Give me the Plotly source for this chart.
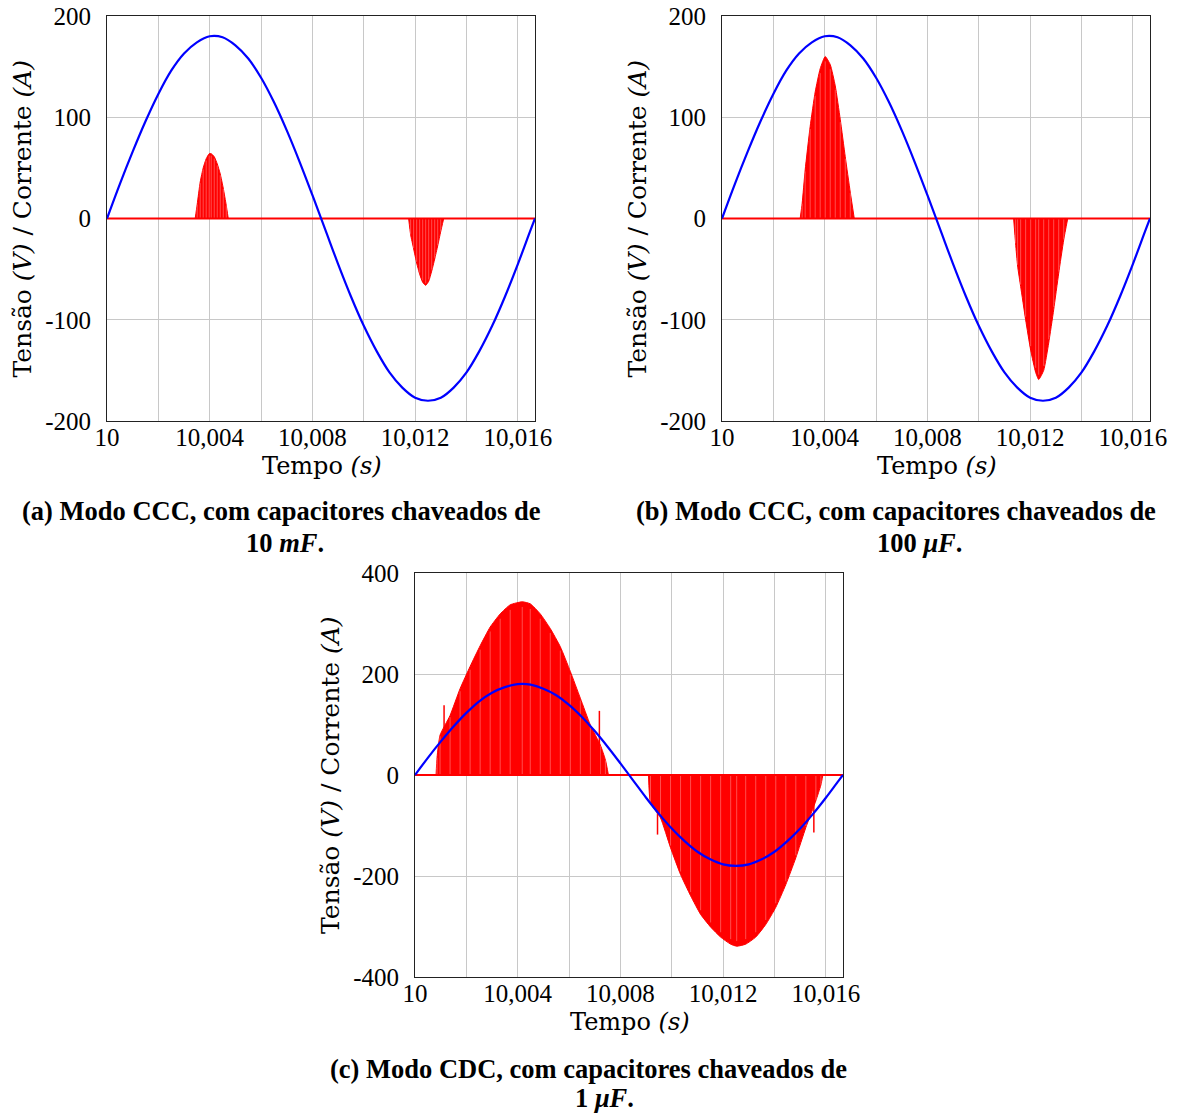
import plotly.graph_objects as go

# ---------------- data ----------------
# Supply voltage over one 60 Hz cycle (V)
t_volt = [10.0, 10.0005, 10.001, 10.0015, 10.002, 10.0025, 10.003, 10.0035, 10.004,
          10.0045, 10.005, 10.0055, 10.006, 10.0065, 10.007, 10.0075, 10.008, 10.0085,
          10.009, 10.0095, 10.01, 10.0105, 10.011, 10.0115, 10.012, 10.0125, 10.013,
          10.0135, 10.014, 10.0145, 10.015, 10.0155, 10.016, 10.0165, 10.016667]
v_volt = [0, 34, 66, 96, 123, 146, 163, 174, 180, 179, 171, 158, 139, 115, 87, 56, 23,
          -11, -45, -77, -106, -131, -152, -167, -177, -180, -177, -167, -152, -131,
          -106, -77, -45, -11, 0]

# (a) CCC mode, 10 mF: current pulse envelopes (A)
t_a_pos = [10.003434, 10.003512, 10.003629, 10.003746, 10.003863, 10.00398, 10.004059,
           10.004176, 10.004293, 10.00441, 10.004527, 10.004644, 10.004722]
i_a_pos = [0, 14, 36, 50, 59, 64, 64, 61, 54, 44, 30, 13, 0]
t_a_neg = [10.011746, 10.011824, 10.011941, 10.012059, 10.012176, 10.012293, 10.01241,
           10.012527, 10.012644, 10.012761, 10.012878, 10.012995, 10.013112]
i_a_neg = [0, -16, -30, -44, -55, -63, -66, -62, -52, -40, -27, -13, 0]

# (b) CCC mode, 100 uF
t_b_pos = [10.003044, 10.003122, 10.003239, 10.003434, 10.003629, 10.003824, 10.00402,
           10.004215, 10.00441, 10.004605, 10.0048, 10.004995, 10.005151]
i_b_pos = [0, 15, 48, 91, 125, 148, 160, 152, 131, 98, 61, 26, 0]
t_b_neg = [10.011356, 10.011434, 10.011512, 10.011629, 10.011824, 10.01202, 10.012215,
           10.012332, 10.012527, 10.012722, 10.012917, 10.013112, 10.013307, 10.013463]
i_b_neg = [0, -25, -47, -67, -100, -130, -152, -159, -150, -123, -90, -54, -21, 0]

# (c) CDC mode, 1 uF
t_c_pos = [10.00082, 10.000859, 10.000976, 10.001366, 10.001756, 10.002146, 10.002537,
           10.002927, 10.003317, 10.003707, 10.004176, 10.004488, 10.004878, 10.005268,
           10.005659, 10.006049, 10.006439, 10.006829, 10.00722, 10.007415, 10.007532]
i_c_pos = [0, 35, 79, 118, 171, 215, 256, 293, 319, 337, 343, 339, 319, 290, 254, 205,
           152, 99, 59, 30, 0]
t_c_neg = [10.009093, 10.009171, 10.009561, 10.009951, 10.010341, 10.010732, 10.011122,
           10.011512, 10.011902, 10.012293, 10.012527, 10.012878, 10.013268, 10.013659,
           10.014049, 10.014439, 10.014829, 10.01522, 10.01561, 10.015805, 10.015883]
i_c_neg = [0, -55, -85, -144, -197, -239, -276, -301, -321, -335, -339, -335, -321, -296,
           -262, -217, -164, -104, -51, -20, 0]
# isolated switching spikes in (c)
t_c_spk = [10.001132, 10.00718, 10.009444, 10.015532]
i_c_spk = [138, 127, -118, -114]

x_tickvals = [10.0, 10.002, 10.004, 10.006, 10.008, 10.01, 10.012, 10.014, 10.016]
x_ticktext = ["10", "", "10,004", "", "10,008", "", "10,012", "", "10,016"]
y_ticks_ab = [-200, -100, 0, 100, 200]
y_ticks_c = [-400, -200, 0, 200, 400]

caption_line1 = [
    "<b>(a) Modo CCC, com capacitores chaveados de</b>",
    "<b>(b) Modo CCC, com capacitores chaveados de</b>",
    "<b>(c) Modo CDC, com capacitores chaveados de</b>",
]
caption_line2 = ["<b>10 <i>mF</i>.</b>", "<b>100 <i>μF</i>.</b>", "<b>1 <i>μF</i>.</b>"]

# ---------------- layout helpers ----------------
W, H = 1181, 1115
TICK_FONT = "Liberation Serif"
TITLE_FONT = "DejaVu Serif"
RED = "#ff0000"
STRIPE = "rgba(255,130,130,0.6)"
BLUE = "#0000ff"


def px(x):
    return x / W


def py(y):
    return 1 - y / H


fig = go.Figure()

panels = [
    # axis box (left, right, top, bottom) in px, y range, ticks, lobes, spikes
    dict(box=(107, 535, 16, 421), yr=200, yt=y_ticks_ab,
         lobes=[(t_a_pos, i_a_pos), (t_a_neg, i_a_neg)], spikes=None),
    dict(box=(722, 1150, 16, 421), yr=200, yt=y_ticks_ab,
         lobes=[(t_b_pos, i_b_pos), (t_b_neg, i_b_neg)], spikes=None),
    dict(box=(415, 843, 573, 977), yr=400, yt=y_ticks_c,
         lobes=[(t_c_pos, i_c_pos), (t_c_neg, i_c_neg)], spikes=(t_c_spk, i_c_spk)),
]

annotations = []
for k, p in enumerate(panels):
    n = "" if k == 0 else str(k + 1)
    xa, ya = "x" + n, "y" + n
    l, r, tp, b = p["box"]

    # current pulse envelopes, filled to zero
    for tt, ii in p["lobes"]:
        fig.add_trace(go.Scatter(x=tt, y=ii, xaxis=xa, yaxis=ya, mode="lines",
                                 line=dict(color=RED, width=1, shape="spline", smoothing=0.5),
                                 fill="tozeroy", fillcolor=RED, hoverinfo="skip",
                                 showlegend=False))
        # switching stripes at each sample
        sx, sy = [], []
        for t0, v0 in zip(tt[1:-1], ii[1:-1]):
            sx += [t0, t0, None]
            sy += [0, v0 * 0.97, None]
        fig.add_trace(go.Scatter(x=sx, y=sy, xaxis=xa, yaxis=ya, mode="lines",
                                 line=dict(color=STRIPE, width=1), hoverinfo="skip",
                                 showlegend=False))
    if p["spikes"]:
        sx, sy = [], []
        for t0, v0 in zip(*p["spikes"]):
            sx += [t0, t0, None]
            sy += [0, v0, None]
        fig.add_trace(go.Scatter(x=sx, y=sy, xaxis=xa, yaxis=ya, mode="lines",
                                 line=dict(color=RED, width=1.5), hoverinfo="skip",
                                 showlegend=False))

    # current baseline
    fig.add_trace(go.Scatter(x=[t_volt[0], t_volt[-1]], y=[0, 0], xaxis=xa, yaxis=ya,
                             mode="lines", line=dict(color=RED, width=2),
                             hoverinfo="skip", showlegend=False))
    # voltage
    fig.add_trace(go.Scatter(x=t_volt, y=v_volt, xaxis=xa, yaxis=ya, mode="lines",
                             line=dict(color=BLUE, width=2.2, shape="spline"),
                             hoverinfo="skip", showlegend=False))

    axis_common = dict(showline=True, mirror=True, linecolor="#222", linewidth=1,
                       showgrid=True, gridcolor="#c8c8c8", gridwidth=1, zeroline=False,
                       ticks="", automargin=False,
                       tickfont=dict(family=TICK_FONT, size=25, color="black"))
    fig.layout["xaxis" + n] = dict(axis_common, domain=[px(l), px(r)],
                                   range=[t_volt[0], t_volt[-1]], anchor=ya,
                                   tickvals=x_tickvals, ticktext=x_ticktext,
                                   ticklabelstandoff=-6)
    fig.layout["yaxis" + n] = dict(axis_common, domain=[py(b), py(tp)],
                                   range=[-p["yr"], p["yr"]], anchor=xa,
                                   tickvals=p["yt"], ticktext=[str(v) for v in p["yt"]],
                                   ticklabelstandoff=10)

    cx = (l + r) / 2
    cy = (tp + b) / 2
    annotations.append(dict(text="Tensão <i>(V)</i> / Corrente <i>(A)</i>",
                            x=px(l - 85), y=py(cy), xref="paper", yref="paper",
                            xanchor="center", yanchor="middle",
                            textangle=-90, showarrow=False,
                            font=dict(family=TITLE_FONT, size=25, color="black")))
    annotations.append(dict(text="Tempo <i>(s)</i>", x=px(cx + 1), y=py(b + 45),
                            xref="paper", yref="paper", xanchor="center",
                            yanchor="middle", showarrow=False,
                            font=dict(family=TITLE_FONT, size=24, color="black")))

caption_pos = [(281, 511, 285, 543), (896, 511, 919, 543), (588, 1069, 604, 1098)]
for (x1, y1, x2, y2), t1, t2 in zip(caption_pos, caption_line1, caption_line2):
    for xx, yy, txt in ((x1, y1, t1), (x2, y2, t2)):
        annotations.append(dict(text=txt, x=px(xx), y=py(yy), xref="paper", yref="paper",
                                xanchor="center", yanchor="middle", showarrow=False,
                                borderpad=0,
                                font=dict(family=TICK_FONT, size=26.5, color="black")))

fig.update_layout(width=W, height=H, margin=dict(l=0, r=0, t=0, b=0),
                  paper_bgcolor="white", plot_bgcolor="white",
                  annotations=annotations, showlegend=False)

fig.write_html("out.html")
